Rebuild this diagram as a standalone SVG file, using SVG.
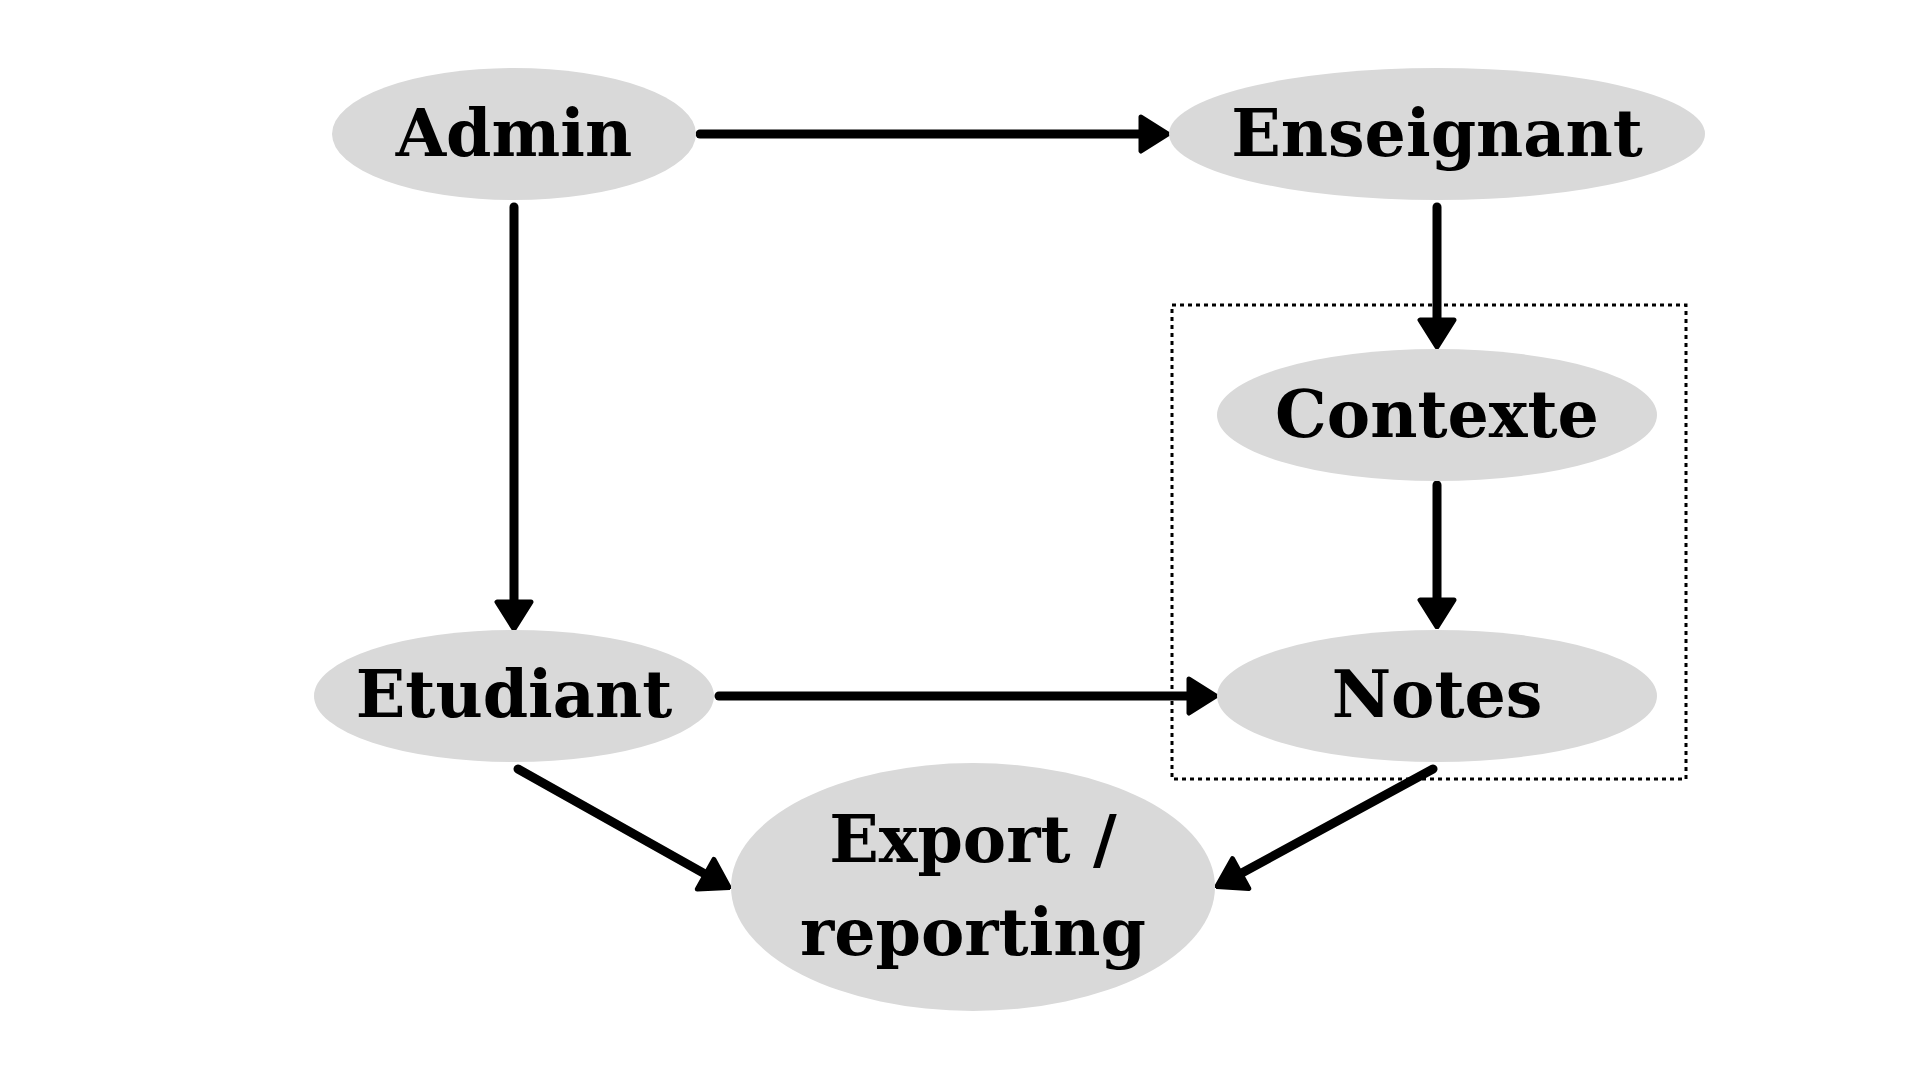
<svg xmlns="http://www.w3.org/2000/svg" width="1920" height="1080" viewBox="0 0 1920 1080">
<style>
.node ellipse{fill:#d9d9d9;}
.node text{font-family:"DejaVu Serif","Liberation Serif",serif;font-weight:bold;font-size:65px;fill:#000;text-anchor:middle;}
.edge{stroke:#000;stroke-width:9;stroke-linecap:round;fill:none;marker-end:url(#ah);}
.frame{fill:none;stroke:#000;stroke-width:3;stroke-dasharray:4 4;}
</style>
<defs>
<marker id="ah" viewBox="0 0 32 40" refX="20" refY="20" markerWidth="32" markerHeight="40" markerUnits="userSpaceOnUse" orient="auto">
<path d="M3,3 L30,20 L3,37 Z" fill="#000" stroke="#000" stroke-width="5" stroke-linejoin="round"/>
</marker>
</defs>
<rect width="1920" height="1080" fill="#fff"/>
<rect id="group-frame" class="frame" x="1172" y="305" width="514" height="474"/>
<g id="connectors">
<line class="edge" x1="700" y1="134" x2="1158" y2="134"/>
<line class="edge" x1="514" y1="207" x2="514" y2="619"/>
<line class="edge" x1="1437" y1="207" x2="1437" y2="337"/>
<line class="edge" x1="1437" y1="485" x2="1437" y2="617"/>
<line class="edge" x1="719" y1="696" x2="1206" y2="696"/>
<line class="edge" x1="518" y1="769" x2="720.4" y2="882.6"/>
<line class="edge" x1="1433" y1="769" x2="1225.7" y2="881.7"/>
</g>
<g id="admin" class="node"><ellipse cx="514" cy="134" rx="182" ry="66"/><text x="514" y="156">Admin</text></g>
<g id="enseignant" class="node"><ellipse cx="1437" cy="134" rx="268" ry="66"/><text x="1437" y="156">Enseignant</text></g>
<g id="contexte" class="node"><ellipse cx="1437" cy="415" rx="220" ry="66"/><text x="1437" y="437">Contexte</text></g>
<g id="etudiant" class="node"><ellipse cx="514" cy="696" rx="200" ry="66"/><text x="514" y="717">Etudiant</text></g>
<g id="notes" class="node"><ellipse cx="1437" cy="696" rx="220" ry="66"/><text x="1437" y="717">Notes</text></g>
<g id="export" class="node"><ellipse cx="973" cy="887" rx="242" ry="124"/><text x="973" y="862">Export /</text><text x="973" y="955">reporting</text></g>
</svg>
